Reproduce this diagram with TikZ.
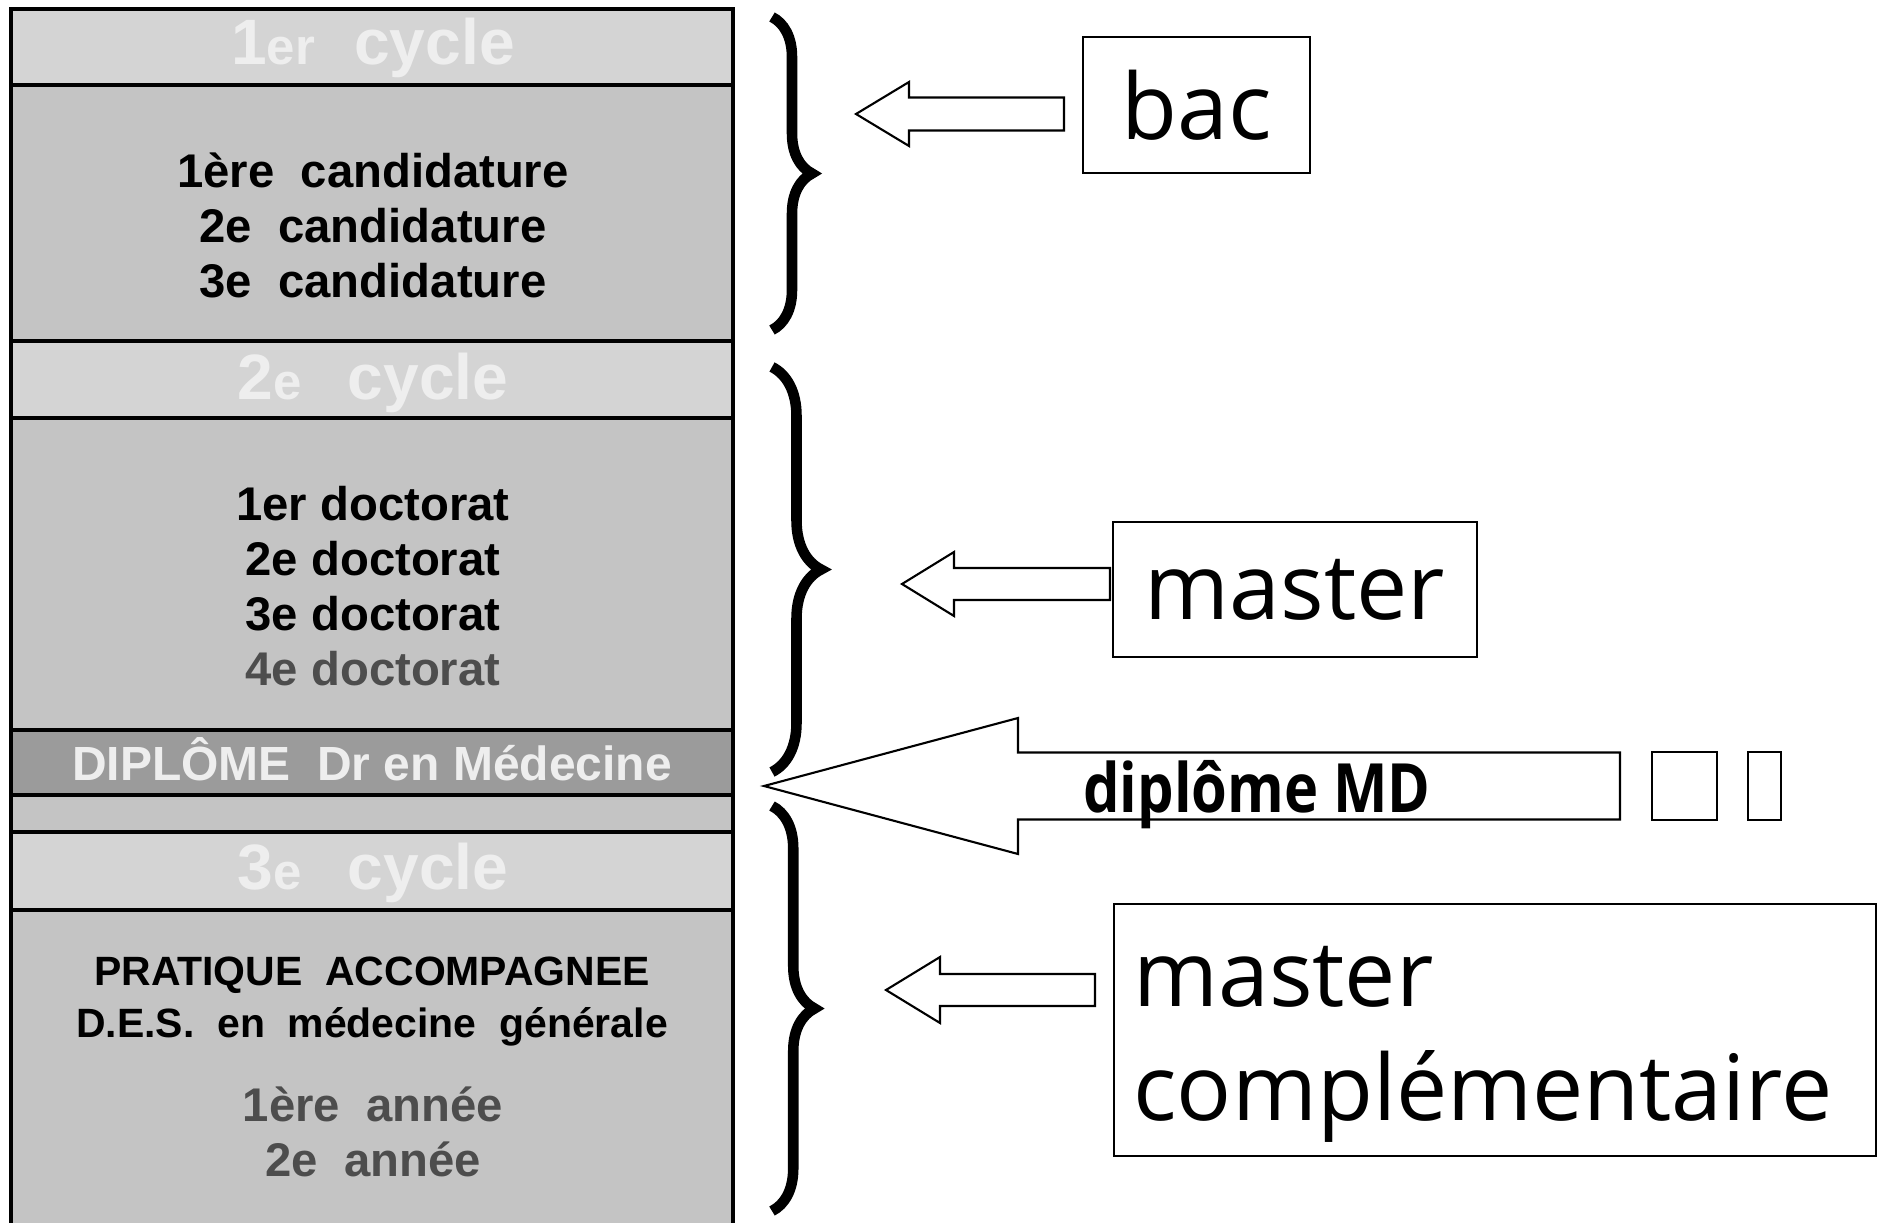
\documentclass[tikz,border=0pt]{standalone}
\usepackage{fontspec}
\setmainfont{Liberation Sans}
\newfontfamily\lblfont{Open Sans}
\usetikzlibrary{decorations.pathreplacing}

\definecolor{headgray}{HTML}{D4D4D4}
\definecolor{bodygray}{HTML}{C4C4C4}
\definecolor{diplgray}{HTML}{9B9B9B}
\definecolor{pale}{HTML}{EEEEEE}
\definecolor{darkgray}{HTML}{4D4D4D}

\newcommand{\headfont}{\bfseries\fontsize{36.5}{40}\selectfont}
\newcommand{\sm}[1]{{\fontsize{29}{30}\selectfont #1}}
\newcommand{\blockarrow}[6]{% tip x, tip y, head x, end x, head half, shaft half
  \draw[hollow] (#1,#2) -- (#3,#2-#5) -- (#3,#2-#6) -- (#4,#2-#6)
    -- (#4,#2+#6) -- (#3,#2+#6) -- (#3,#2+#5) -- cycle;}

\tikzset{
  band/.style={draw, line width=2.8pt, fill=bodygray},
  headband/.style={band, fill=headgray},
  lblbox/.style={draw, line width=1pt, inner sep=0pt,
    font=\lblfont\fontsize{52}{65}\selectfont},
  hollow/.style={draw, line width=1.2pt, fill=white, line join=miter},
  curly/.style={line width=6pt, decorate, decoration={brace, amplitude=#1}},
}

\begin{document}
\begin{tikzpicture}[x=0.02cm, y=-0.02cm]
	 \useasboundingbox (0,0) rectangle (1880,1223);
	 \fill[white] (0,0) rectangle (1880,1223);
	 \clip (0,0) rectangle (1880,1223);
	 % the column of cycles
	 \draw[headband] (11,9) rectangle (733,85);
	 \draw[band] (11,85) rectangle (733,341);
	 \draw[headband] (11,341) rectangle (733,418);
	 \draw[band] (11,418) rectangle (733,730);
	 \draw[band, fill=diplgray] (11,730) rectangle (733,795);
	 \draw[band] (11,795) rectangle (733,832);
	 \draw[headband] (11,832) rectangle (733,910);
	 \draw[band] (11,910) rectangle (733,1260);
	 \node[font=\headfont, text=pale, anchor=base] (cyc1) at (373,65) {1\sm{er}\ \,\,cycle};
	 \node[font=\bfseries\fontsize{26.9}{31.3}\selectfont, align=center] (cand) at (373,225)
	   {1ère\ \ candidature\\2e\ \ candidature\\3e\ \ candidature};
	 \node[font=\headfont, text=pale, anchor=base] (cyc2) at (373,399) {2\sm{e}\ \ \,cycle};
	 \node[font=\bfseries\fontsize{26.9}{31.3}\selectfont, align=center] (doct) at (373,586)
	   {1er doctorat\\2e doctorat\\3e doctorat\\\textcolor{darkgray}{4e doctorat}};
	 \node[font=\bfseries\fontsize{27.3}{30}\selectfont, text=pale, anchor=base] (dipl) at (372,780)
	   {DIPLÔME\ \ Dr en Médecine};
	 \node[font=\headfont, text=pale, anchor=base] (cyc3) at (373,889) {3\sm{e}\ \ \,cycle};
	 \node[font=\bfseries\fontsize{23.3}{29.6}\selectfont, align=center] (des) at (372,1002)
	   {PRATIQUE\ \ ACCOMPAGNEE\\D.E.S.\ \ en\ \ médecine\ \ générale};
	 \node[font=\bfseries\fontsize{26.9}{31.3}\selectfont, text=darkgray, align=center] (annee) at (373,1132)
	   {1ère\ \ année\\2e\ \ année};
	 % braces
	 \draw[curly=0.8cm] (772,17) -- (772,330);
	 \draw[curly=0.98cm] (772,367) -- (772,772);
	 \draw[curly=0.85cm] (772,806) -- (772,1211);
	 % labels
	 \node[lblbox, minimum width=4.54cm, minimum height=2.72cm] (bac) at (1196.5,105) {bac};
	 \node[lblbox, minimum width=7.28cm, minimum height=2.7cm] (master) at (1295,589.5) {master};
	 \node[lblbox, minimum width=15.24cm, minimum height=5.04cm] (mcbox) at (1495,1030) {};
	 \node[font=\lblfont\fontsize{52}{65}\selectfont, align=left, anchor=west, inner sep=0pt] (mctext)
	   at (1133,1044) {master\\complémentaire};
	 % arrows
	 \blockarrow{856}{114}{909}{1064}{32}{16.5}
	 \blockarrow{902}{584}{954}{1110}{32}{16}
	 \blockarrow{886}{990}{940}{1095}{33}{16}
	 \blockarrow{764}{786}{1018}{1620}{68}{33.5}
	 \node[font=\lblfont\bfseries\fontsize{38.7}{40}\selectfont, anchor=base west, inner sep=0pt] (md)
	   at (1083,812) {\scalebox{0.85}[1]{diplôme MD}};
	 \draw[line width=1.2pt] (1652,752) rectangle (1717,820);
	 \draw[line width=1.2pt] (1748,752) rectangle (1781,820);
\end{tikzpicture}
\end{document}
